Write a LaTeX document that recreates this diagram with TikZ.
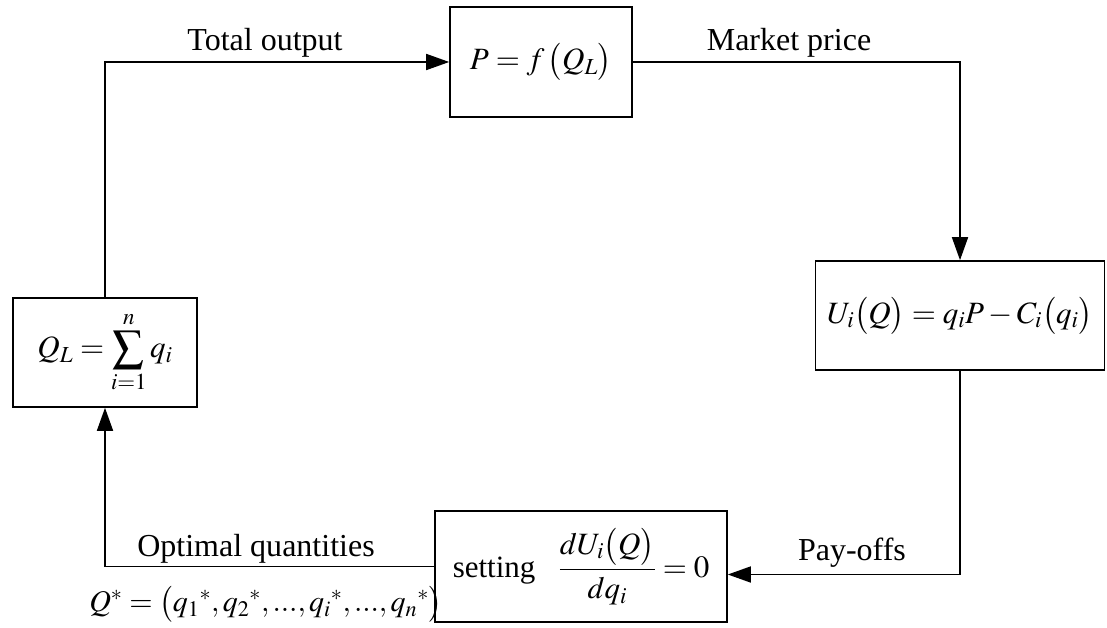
\documentclass[tikz,border=0pt]{standalone}
\usepackage{amsmath}
\usepackage{mathptmx}
\usepackage{fontspec}
\setmainfont{Liberation Serif}
\usetikzlibrary{arrows.meta}
\begin{document}
\begin{tikzpicture}[x=1pt,y=-1pt,
  box/.style={draw, line width=1.6pt, inner sep=0pt, font=\fontsize{31}{37}\selectfont},
  conn/.style={line width=1.6pt, -{Triangle[length=23pt,width=16pt]}},
  lbl/.style={font=\fontsize{32}{38}\selectfont, inner sep=0pt}]
\useasboundingbox (0,0) rectangle (1107,628);
\node[box, minimum width=182pt, minimum height=110pt] (P) at (541,62) {$P=f\,\bigl(Q_L\bigr)$};
\node[box, minimum width=289pt, minimum height=109pt] (U) at (960,315.5) {$U_i\bigl(Q\bigr)=q_iP-C_i\bigl(q_i\bigr)$};
\node[box, minimum width=184pt, minimum height=109pt] (QL) at (105,352.5) {$\displaystyle Q_L=\sum_{i=1}^{n}q_i$};
\node[box, minimum width=292pt, minimum height=111pt] (S) at (581,566.5) {setting\ \ \ $\dfrac{dU_i\bigl(Q\bigr)}{dq_i}=0$};
\draw[conn] (QL.north) |- (P.west);
\draw[conn] (P.east) -| (U.north);
\draw[conn] (U.south) |- ([yshift=-8pt]S.east);
\draw[conn] (S.west) -| (QL.south);
\node[lbl] (to) at (265,43) {Total output};
\node[lbl] (mp) at (789,43) {Market price};
\node[lbl] (po) at (852,553) {Pay-offs};
\node[lbl] (oq) at (256,549) {Optimal quantities};
\node[lbl, font=\fontsize{30}{36}\selectfont] (qs) at (266,604) {$Q^*=\bigl(q_1{}^*,q_2{}^*,...,q_i{}^*,...,q_n{}^*\bigr)$};
\end{tikzpicture}
\end{document}
